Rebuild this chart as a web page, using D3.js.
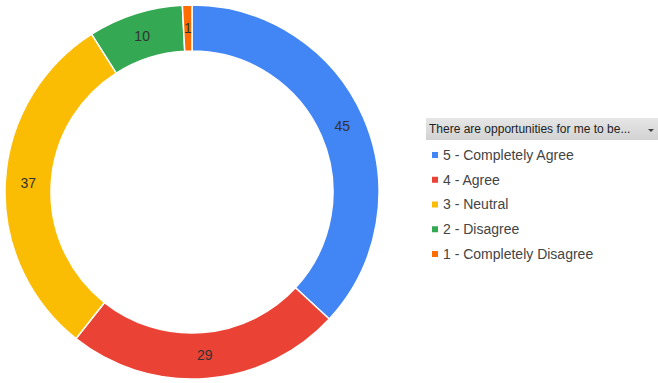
<!DOCTYPE html>
<html>
<head>
<meta charset="utf-8">
<script src="https://cdn.jsdelivr.net/npm/d3@7"></script>
<style>
  body { margin: 0; background: #fff; }
  svg { display: block; font-family: Arial, "Liberation Sans", sans-serif; }
</style>
</head>
<body>
<svg width="658" height="383"></svg>
<script>
// data
var categories = ["5 - Completely Agree", "4 - Agree", "3 - Neutral", "2 - Disagree", "1 - Completely Disagree"];
var counts = [45, 29, 37, 10, 1];
var colors = ["#4285f4", "#ea4335", "#fbbc04", "#34a853", "#ff6d01"];
var legendTitle = "There are opportunities for me to be...";

var svg = d3.select("svg"),
    cx = 192, cy = 192,
    outerR = 187, innerR = 141;

var data = categories.map(function(c, i) { return {name: c, value: counts[i], color: colors[i]}; });

var pie = d3.pie().sort(null).value(function(d) { return d.value; });
var arc = d3.arc().innerRadius(innerR).outerRadius(outerR);
var labelArc = d3.arc().innerRadius(164).outerRadius(164);

var g = svg.append("g").attr("transform", "translate(" + cx + "," + cy + ")");

var slices = g.selectAll(".slice")
    .data(pie(data))
    .enter().append("g")
    .attr("class", "slice");

slices.append("path")
    .attr("d", arc)
    .attr("fill", function(d) { return d.data.color; })
    .attr("stroke", "#fff")
    .attr("stroke-width", 1.5);

slices.append("text")
    .attr("transform", function(d) { return "translate(" + labelArc.centroid(d) + ")"; })
    .attr("text-anchor", "middle")
    .attr("dy", "0.35em")
    .style("font-size", "14px")
    .attr("fill", "#333")
    .text(function(d) { return d.data.value; });

// legend header (dropdown look)
var grad = svg.append("defs").append("linearGradient")
    .attr("id", "hdr").attr("x1", 0).attr("y1", 0).attr("x2", 0).attr("y2", 1);
grad.append("stop").attr("offset", "0%").attr("stop-color", "#e6e6e6");
grad.append("stop").attr("offset", "100%").attr("stop-color", "#d2d2d2");

var legend = svg.append("g").attr("transform", "translate(426,118)");
legend.append("rect")
    .attr("width", 232).attr("height", 22)
    .attr("fill", "url(#hdr)");
legend.append("text")
    .attr("x", 3).attr("y", 15)
    .style("font-size", "12px")
    .attr("fill", "#222")
    .text(legendTitle);
legend.append("path")
    .attr("d", "M222,11 L228,11 L225,14 Z")
    .attr("fill", "#444");

var y = d3.scalePoint().domain(categories).range([37, 136]);

var items = legend.selectAll(".item")
    .data(data)
    .enter().append("g")
    .attr("class", "item")
    .attr("transform", function(d) { return "translate(0," + y(d.name) + ")"; });

items.append("rect")
    .attr("x", 6).attr("y", -3)
    .attr("width", 6).attr("height", 6)
    .attr("fill", function(d) { return d.color; });

items.append("text")
    .attr("x", 17).attr("dy", "0.35em")
    .style("font-size", "14px")
    .attr("fill", "#444")
    .text(function(d) { return d.name; });
</script>
</body>
</html>
